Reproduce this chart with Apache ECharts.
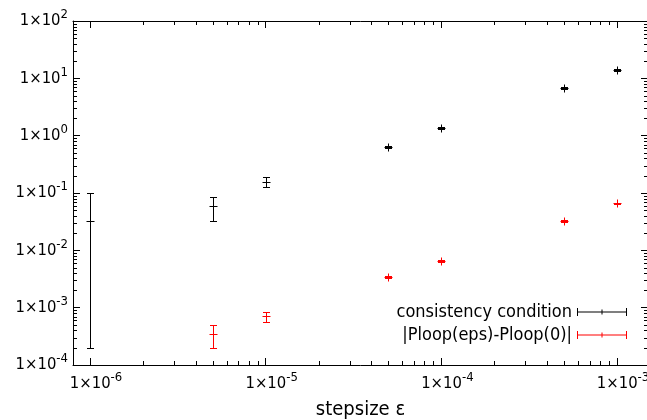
<!DOCTYPE html>
<html>
<head>
<meta charset="utf-8">
<script src="https://cdn.jsdelivr.net/npm/echarts@6/dist/echarts.min.js"></script>
<style>html,body{margin:0;padding:0;background:#fff}#c{width:647px;height:420px}</style>
</head>
<body>
<div id="c"></div>
<script>
// ---- data ----
const consistencyX = [1e-6, 5e-6, 1e-5, 5e-5, 1e-4, 5e-4, 1e-3];
const consistencyY = [0.0324, 0.0591, 0.157, 0.638, 1.37, 6.8, 13.8];
const consistencyLow = [1.96e-4, 0.0328, 0.127, 0.612, 1.32, 6.55, 13.3];
const consistencyHigh = [0.1007, 0.0859, 0.191, 0.665, 1.42, 7.05, 14.3];

const ploopX = [5e-6, 1e-5, 5e-5, 1e-4, 5e-4, 1e-3];
const ploopY = [3.48e-4, 7.16e-4, 3.47e-3, 6.59e-3, 0.0328, 0.0659];
const ploopLow = [1.96e-4, 5.57e-4, 3.35e-3, 6.35e-3, 0.0318, 0.0642];
const ploopHigh = [5.0e-4, 8.5e-4, 3.6e-3, 6.85e-3, 0.0338, 0.0677];

const seriesNames = ['consistency condition', '|Ploop(eps)-Ploop(0)|'];
const xLabel = 'stepsize ε';
const xRange = [8e-7, 1.5e-3];
const yRange = [1e-4, 1e2];
const minorMultipliers = [2, 3, 4, 5, 6, 7, 8, 9];

// ---- build ----
const FONT = "'DejaVu Sans Condensed', 'DejaVu Sans'";
function rows(xs, ys, lo, hi) { return xs.map((x, i) => [x, ys[i], lo[i], hi[i]]); }

// minor ticks only inside full decades that start at or after the first major tick
function minorValues(range) {
  const out = [];
  const e0 = Math.ceil(Math.log10(range[0]) - 1e-9), e1 = Math.ceil(Math.log10(range[1]));
  for (let e = e0; e < e1; e++) {
    minorMultipliers.forEach(k => {
      const v = k * Math.pow(10, e);
      if (v > range[0] && v < range[1]) out.push(v);
    });
  }
  return out;
}

function powLabel(pad) {
  return function (v) {
    const l = Math.log10(v), e = Math.round(l);
    if (Math.abs(l - e) > 1e-6) return '';
    return (pad ? '{p|}' : '') + '{b|1×10}{s|' + e + '}';
  };
}
const rich = {
  p: { width: 12 },
  b: { fontSize: 16.5, lineHeight: 25, fontFamily: FONT, color: '#000' },
  s: { fontSize: 13, lineHeight: 25, fontFamily: FONT, color: '#000', verticalAlign: 'top' }
};

function errRender(color) {
  return function (params, api) {
    const x = api.value(0), y = api.value(1), lo = api.value(2), hi = api.value(3);
    const p = api.coord([x, y]), pl = api.coord([x, lo]), ph = api.coord([x, hi]);
    const cx = Math.round(p[0]) + 0.5;
    const cy = Math.round(p[1]) + 0.5;
    const yl = Math.round(pl[1]) + 0.5, yh = Math.round(ph[1]) + 0.5;
    const st = { stroke: color, lineWidth: 1 };
    const c = 3.5, m = 4;
    return {
      type: 'group',
      children: [
        { type: 'line', shape: { x1: cx, y1: yl, x2: cx, y2: yh }, style: st },
        { type: 'line', shape: { x1: cx - c, y1: yl, x2: cx + c, y2: yl }, style: st },
        { type: 'line', shape: { x1: cx - c, y1: yh, x2: cx + c, y2: yh }, style: st },
        { type: 'line', shape: { x1: cx - m, y1: cy, x2: cx + m, y2: cy }, style: st },
        { type: 'line', shape: { x1: cx, y1: cy - m, x2: cx, y2: cy + m }, style: st }
      ]
    };
  };
}

const MINOR_LEN = 4;
const MINOR_COLOR = '#000';
function minorXRender(params, api) {
  const cs = params.coordSys;
  const p = api.coord([api.value(0), api.value(1)]);
  const x = Math.round(p[0]) + 0.5, yb = cs.y + cs.height, yt = cs.y;
  const st = { stroke: MINOR_COLOR, lineWidth: 1 };
  return { type: 'group', children: [
    { type: 'line', shape: { x1: x, y1: yb, x2: x, y2: yb - MINOR_LEN }, style: st },
    { type: 'line', shape: { x1: x, y1: yt, x2: x, y2: yt + MINOR_LEN }, style: st }
  ] };
}
function minorYRender(params, api) {
  const cs = params.coordSys;
  const p = api.coord([api.value(0), api.value(1)]);
  const y = Math.round(p[1]) + 0.5, xl = cs.x, xr = cs.x + cs.width;
  const st = { stroke: MINOR_COLOR, lineWidth: 1 };
  return { type: 'group', children: [
    { type: 'line', shape: { x1: xl, y1: y, x2: xl + MINOR_LEN, y2: y }, style: st },
    { type: 'line', shape: { x1: xr, y1: y, x2: xr - MINOR_LEN, y2: y }, style: st }
  ] };
}

const axisCommon = {
  type: 'log', logBase: 10,
  axisLine: { show: true, lineStyle: { color: '#000', width: 1 } },
  axisTick: { show: true, inside: true, length: 7, lineStyle: { color: '#000' } },
  minorTick: { show: false },
  splitLine: { show: false },
  minorSplitLine: { show: false }
};

const icon = 'path://M0,3.5h50v1h-50z M0,0h1v8h-1z M49,0h1v8h-1z M24.5,1.5h1v5h-1z';

const option = {
  animation: false,
  backgroundColor: '#fff',
  grid: { left: 73, right: -1, top: 21, bottom: 55, containLabel: false, outerBoundsMode: 'none' },
  legend: {
    orient: 'vertical', align: 'right', right: 20, top: 302, padding: 0,
    itemWidth: 50, itemHeight: 8, itemGap: 3,
    textStyle: { fontFamily: FONT, fontSize: 18, color: '#000', lineHeight: 20 },
    data: seriesNames.map(n => ({ name: n, icon: icon }))
  },
  xAxis: [
    Object.assign({}, axisCommon, {
      position: 'bottom', min: xRange[0], max: xRange[1],
      axisLabel: { show: true, formatter: powLabel(true), rich: rich, margin: 6.5, showMinLabel: false, showMaxLabel: false },
      name: xLabel, nameLocation: 'middle', nameGap: 35,
      nameTextStyle: { fontFamily: FONT, fontSize: 20, color: '#000' }
    }),
    Object.assign({}, axisCommon, {
      position: 'top', min: xRange[0], max: xRange[1],
      axisLabel: { show: false }
    })
  ],
  yAxis: [
    Object.assign({}, axisCommon, {
      position: 'left', min: yRange[0], max: yRange[1],
      axisLabel: { show: true, formatter: powLabel(false), rich: rich, margin: 5 }
    }),
    Object.assign({}, axisCommon, {
      position: 'right', min: yRange[0], max: yRange[1],
      axisLabel: { show: false }
    })
  ],
  series: [
    {
      name: seriesNames[0], type: 'custom', xAxisIndex: 0, yAxisIndex: 0,
      itemStyle: { color: '#000' },
      encode: { x: 0, y: [1, 2, 3] },
      renderItem: errRender('#000'),
      data: rows(consistencyX, consistencyY, consistencyLow, consistencyHigh)
    },
    {
      name: seriesNames[1], type: 'custom', xAxisIndex: 0, yAxisIndex: 0,
      itemStyle: { color: '#ff0000' },
      encode: { x: 0, y: [1, 2, 3] },
      renderItem: errRender('#ff0000'),
      data: rows(ploopX, ploopY, ploopLow, ploopHigh)
    },
    {
      name: 'xMinor', type: 'custom', xAxisIndex: 0, yAxisIndex: 0, silent: true,
      encode: { x: 0, y: 1 },
      renderItem: minorXRender,
      data: minorValues(xRange).map(v => [v, yRange[0]])
    },
    {
      name: 'yMinor', type: 'custom', xAxisIndex: 0, yAxisIndex: 0, silent: true,
      encode: { x: 0, y: 1 },
      renderItem: minorYRender,
      data: minorValues(yRange).map(v => [xRange[0], v])
    }
  ]
};

const chart = echarts.init(document.getElementById('c'), null, { renderer: 'canvas' });
chart.setOption(option);
</script>
</body>
</html>
